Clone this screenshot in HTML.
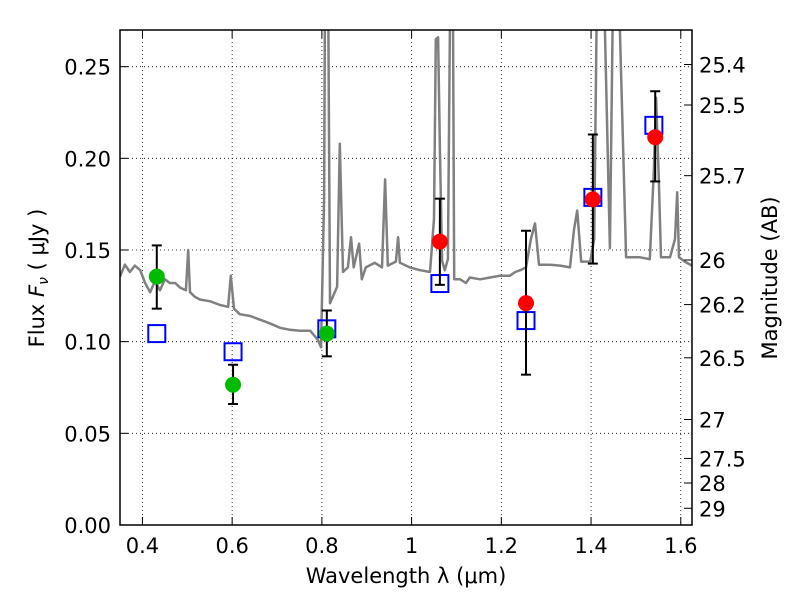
<!DOCTYPE html>
<html><head><meta charset="utf-8"><style>
body{margin:0;background:#fff}
svg text{font-family:"DejaVu Sans","Liberation Sans",sans-serif;font-size:21px;fill:#000}
</style></head><body>
<svg id="chart" width="800" height="600" xmlns="http://www.w3.org/2000/svg">
<defs><clipPath id="clip"><rect x="120" y="30" width="572" height="495"/></clipPath></defs>
<rect x="0" y="0" width="800" height="600" fill="#fff"/>
<g id="grid"></g>
<g id="plot" clip-path="url(#clip)"></g>
<rect x="120" y="30" width="572" height="495" fill="none" stroke="#000" stroke-width="1.5"/>
<g id="axes"></g>
<text x="406" y="583" text-anchor="middle">Wavelength  λ (μm)</text>
<text transform="translate(44,278) rotate(-90)" text-anchor="middle">Flux  <tspan font-style="italic">F</tspan><tspan font-size="14" dy="4" font-style="italic">ν</tspan><tspan dy="-4">  ( μJy )</tspan></text>
<text transform="translate(777,278) rotate(-90)" text-anchor="middle">Magnitude (AB)</text>
</svg>
<script>
const specWave=[.350,.361,.372,.383,.395,.406,.417,.428,.439,.450,.461,.473,.484,.497,.502,.506,.517,.528,.551,.573,.591,.597,.604,.617,.640,.662,.684,.707,.729,.751,.774,.791,.798,.805,.807,.814,.818,.827,.834,.840,.847,.858,.865,.871,.883,.889,.898,.918,.934,.941,.947,.965,.970,.974,.996,1.019,1.041,1.050,1.054,1.059,1.063,1.068,1.074,1.081,1.086,1.092,1.095,1.108,1.121,1.130,1.153,1.175,1.197,1.219,1.231,1.242,1.255,1.266,1.275,1.284,1.309,1.331,1.353,1.362,1.369,1.378,1.398,1.407,1.413,1.429,1.442,1.449,1.462,1.478,1.509,1.531,1.540,1.545,1.551,1.556,1.576,1.587,1.592,1.596,1.609,1.625];
const specFlux=[.1355,.142,.138,.1415,.139,.132,.127,.133,.128,.134,.132,.132,.1295,.128,.150,.127,.1245,.123,.122,.120,.119,.136,.118,.115,.114,.112,.110,.1075,.1065,.106,.106,.101,.097,.178,.29,.29,.121,.126,.130,.208,.138,.1405,.157,.1405,.1535,.134,.1405,.143,.1405,.1885,.1415,.1437,.157,.143,.1405,.139,.138,.167,.265,.266,.205,.144,.139,.145,.29,.29,.134,.134,.132,.135,.134,.135,.136,.136,.138,.139,.1405,.156,.1645,.142,.142,.1415,.1405,.161,.1715,.1437,.1437,.156,.29,.29,.151,.29,.29,.146,.146,.145,.194,.233,.1885,.146,.146,.156,.1815,.146,.1437,.1415];
const greenWave=[.432,.602,.811];
const greenFlux=[.1355,.0765,.1044];
const greenLo=[.118,.066,.092];
const greenHi=[.1525,.0874,.117];
const redWave=[1.063,1.255,1.404,1.543];
const redFlux=[.1546,.121,.1776,.2115];
const redLo=[.131,.082,.1426,.1874];
const redHi=[.178,.1605,.213,.2366];
const sqWave=[.432,.602,.811,1.063,1.255,1.404,1.540];
const sqFlux=[.1044,.0945,.107,.1317,.1115,.1787,.218];
const xTicks=[0.4,0.6,0.8,1.0,1.2,1.4,1.6];
const xTickLabels=["0.4","0.6","0.8","1","1.2","1.4","1.6"];
const yTicks=[0,0.05,0.10,0.15,0.20,0.25];
const yTickLabels=["0.00","0.05","0.10","0.15","0.20","0.25"];
const magTicks=[25.4,25.5,25.7,26,26.2,26.5,27,27.5,28,29];
const magTickLabels=["25.4","25.5","25.7","26","26.2","26.5","27","27.5","28","29"];

const X=w=>120+(w-0.35)/(1.625-0.35)*572;
const Y=f=>525-f/0.27*495;
const NS="http://www.w3.org/2000/svg";
function mk(tag,attrs,parent){const e=document.createElementNS(NS,tag);for(const k in attrs)e.setAttribute(k,attrs[k]);parent.appendChild(e);return e;}
const grid=document.getElementById('grid'),plot=document.getElementById('plot'),axes=document.getElementById('axes');

xTicks.forEach((t,i)=>{
 const x=X(t);
 const g=mk('line',{x1:x,x2:x,y1:30,y2:525,stroke:'#000','stroke-width':0.8,'stroke-dasharray':'1,3'},grid);
 
 
 const tk=mk('line',{x1:x,x2:x,y1:525,y2:517,stroke:'#000','stroke-width':1},axes);
 
 
 const tk2=mk('line',{x1:x,x2:x,y1:30,y2:38,stroke:'#000','stroke-width':1},axes);
 
 
 const tx=mk('text',{x:x,y:553,'text-anchor':'middle'},axes);tx.textContent=xTickLabels[i];
 
 
});
yTicks.forEach((t,i)=>{
 const y=Y(t);
 if(t>0){const g=mk('line',{x1:120,x2:692,y1:y,y2:y,stroke:'#000','stroke-width':0.8,'stroke-dasharray':'1,3'},grid);
 
 }
 const tk=mk('line',{x1:120,x2:128,y1:y,y2:y,stroke:'#000','stroke-width':1},axes);
 
 
 const tx=mk('text',{x:111,y:y+8,'text-anchor':'end'},axes);tx.textContent=yTickLabels[i];
 
 
});
magTicks.forEach((m,i)=>{
 const y=Y(Math.pow(10,(23.9-m)/2.5));
 const tk=mk('line',{x1:684,x2:692,y1:y,y2:y,stroke:'#000','stroke-width':1},axes);
 
 
 const tx=mk('text',{x:699,y:y+8,'text-anchor':'start'},axes);tx.textContent=magTickLabels[i];
 
 
});

const pts=specWave.map((w,i)=>X(w).toFixed(1)+','+Y(specFlux[i]).toFixed(1)).join(' ');
const sp=mk('polyline',{points:pts,fill:'none',stroke:'#808080','stroke-width':2.5,'stroke-linejoin':'round'},plot);



sqWave.forEach((w,i)=>{
 const r=mk('rect',{x:X(w)-8.5,y:Y(sqFlux[i])-8.5,width:17,height:17,fill:'none',stroke:'#0000ff','stroke-width':2},plot);
 
 
});
function errs(ws,lo,hi,name){
 ws.forEach((w,i)=>{
  const x=X(w);
  const g=mk('g',{stroke:'#000','stroke-width':2},plot);
  
  
  mk('line',{x1:x,x2:x,y1:Y(lo[i]),y2:Y(hi[i])},g);
  mk('line',{x1:x-5,x2:x+5,y1:Y(lo[i]),y2:Y(lo[i])},g);
  mk('line',{x1:x-5,x2:x+5,y1:Y(hi[i]),y2:Y(hi[i])},g);
 });
}
errs(greenWave,greenLo,greenHi,'green-errorbar');
errs(redWave,redLo,redHi,'red-errorbar');
greenWave.forEach((w,i)=>{
 const c=mk('circle',{cx:X(w),cy:Y(greenFlux[i]),r:8,fill:'#00bb00'},plot);
 
 
});
redWave.forEach((w,i)=>{
 const c=mk('circle',{cx:X(w),cy:Y(redFlux[i]),r:8,fill:'#ff0000'},plot);
 
 
});
</script>
</body></html>
